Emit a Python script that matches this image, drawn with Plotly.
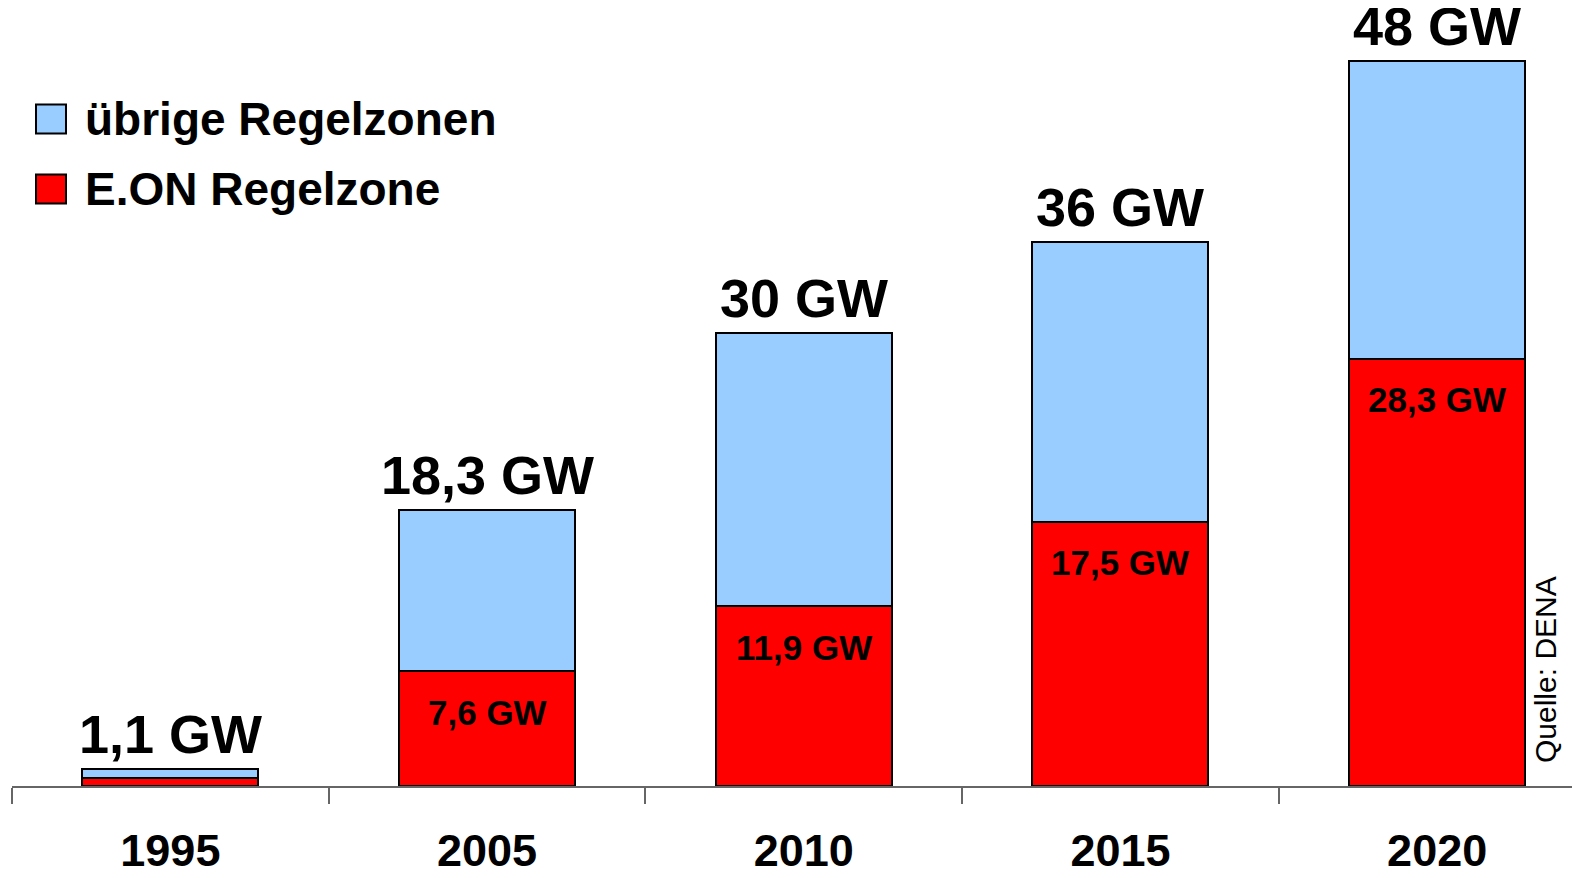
import plotly.graph_objects as go

# data (GW)
years = ["1995", "2005", "2010", "2015", "2020"]
eon = [0.5, 7.6, 11.9, 17.5, 28.3]
totals = [1.1, 18.3, 30, 36, 48]
uebrige = [round(t - e, 1) for t, e in zip(totals, eon)]
total_labels = ["1,1 GW", "18,3 GW", "30 GW", "36 GW", "48 GW"]
eon_labels = ["", "7,6 GW", "11,9 GW", "17,5 GW", "28,3 GW"]

series_names = ["übrige Regelzonen", "E.ON Regelzone"]
blue = "#99CCFF"
red = "#FF0000"
FONT = "Arial, Liberation Sans, sans-serif"

# page body has an 8px margin, so the figure is a bit smaller than the window
W, H = 1572, 870
ML, MB = 4, 92
PW, PH = W - ML, H - MB


def px_to_paper(x, y):
    # window pixel -> paper coords
    return (x - 8 - ML) / PW, (H - MB - (y - 8)) / PH


fig = go.Figure()
fig.add_trace(go.Bar(x=years, y=eon, name=series_names[1],
                     marker=dict(color=red, line=dict(color="black", width=2)),
                     width=0.556, hoverinfo="skip"))
fig.add_trace(go.Bar(x=years, y=uebrige, name=series_names[0],
                     marker=dict(color=blue, line=dict(color="black", width=2)),
                     width=0.556, hoverinfo="skip"))

annotations = []
# totals above the bars (category axes take serial numbers)
for i, (t, lab) in enumerate(zip(totals, total_labels)):
    annotations.append(dict(x=i, y=t, text=lab, showarrow=False, yanchor="middle",
                            yshift=35, font=dict(family=FONT, size=54, color="black", weight="bold")))
# E.ON values inside the red part
for i, (e, lab) in enumerate(zip(eon, eon_labels)):
    if lab:
        annotations.append(dict(x=i, y=e, text=lab, showarrow=False, yanchor="middle",
                                yshift=-41, font=dict(family=FONT, size=35, color="black", weight="bold")))

# hand-made legend (big swatches)
legend_rows = [(series_names[0], blue, 119), (series_names[1], red, 189)]
shapes = []
for name, col, py in legend_rows:
    x0, y0 = px_to_paper(36, py + 14.5)
    x1, y1 = px_to_paper(66, py - 14.5)
    shapes.append(dict(type="rect", xref="paper", yref="paper", x0=x0, x1=x1, y0=y0, y1=y1,
                       fillcolor=col, line=dict(color="black", width=2)))
    tx, ty = px_to_paper(83, py)
    annotations.append(dict(xref="paper", yref="paper", x=tx, y=ty,
                            xanchor="left", yanchor="middle", text=name, showarrow=False,
                            font=dict(family=FONT, size=46, color="black", weight="bold")))

qx, qy = px_to_paper(1545, 670)
annotations.append(dict(xref="paper", yref="paper", x=qx, y=qy,
                        text="Quelle: DENA", textangle=-90, showarrow=False,
                        xanchor="center", yanchor="middle",
                        font=dict(family=FONT, size=30, color="black")))

cat_px = 316.7
fig.update_layout(
    barmode="stack",
    width=W, height=H,
    margin=dict(l=ML, r=0, t=0, b=MB),
    plot_bgcolor="white", paper_bgcolor="white",
    showlegend=False,
    annotations=annotations,
    shapes=shapes,
)
fig.update_xaxes(type="category", range=[-0.5, -0.5 + PW / cat_px], showline=True,
                 linecolor="#666666", linewidth=1.5, ticks="outside", tickson="boundaries",
                 ticklen=16, tickcolor="#666666", tickwidth=1.5, showgrid=False,
                 automargin=False, ticklabelstandoff=24,
                 tickfont=dict(family=FONT, size=45, color="black", weight="bold"))
fig.update_yaxes(range=[0, PH / 15.1], visible=False, showgrid=False, zeroline=False)

fig.write_html("out.html")
